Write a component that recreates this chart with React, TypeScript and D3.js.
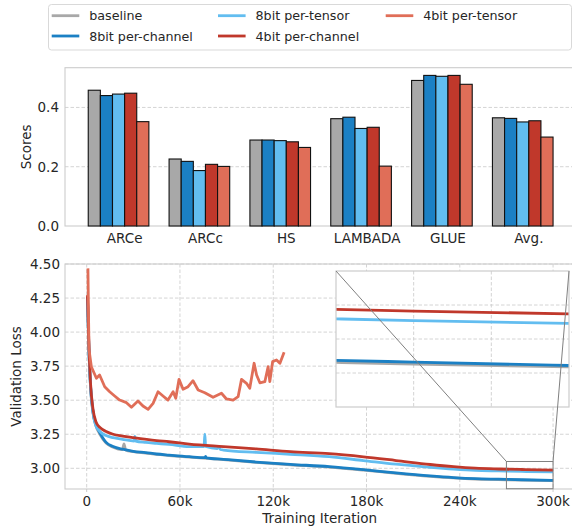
import React, { useEffect, useRef } from 'react';
import * as d3 from 'd3';

// bar chart data
const categories = ['ARCe', 'ARCc', 'HS', 'LAMBADA', 'GLUE', 'Avg.'];
const seriesNames = ['baseline', '8bit per-channel', '8bit per-tensor', '4bit per-channel', '4bit per-tensor'];
const seriesColors = ['#a8a8a8', '#1b80c4', '#62bdf0', '#c0382b', '#e06e58'];

const baselineScores = [0.458, 0.226, 0.290, 0.362, 0.491, 0.365];
const pc8Scores = [0.440, 0.218, 0.290, 0.367, 0.508, 0.363];
const pt8Scores = [0.445, 0.187, 0.288, 0.329, 0.505, 0.351];
const pc4Scores = [0.448, 0.208, 0.284, 0.333, 0.508, 0.355];
const pt4Scores = [0.352, 0.201, 0.265, 0.202, 0.478, 0.300];

const scoreTicks = [0.0, 0.2, 0.4];

// loss curves: [iteration, validation loss]
const baselineLoss: [number, number][] = [
  [500, 4.25], [1500, 3.84], [2500, 3.59], [4000, 3.41], [6000, 3.31], [8500, 3.25],
  [12500, 3.185], [17000, 3.155], [23000, 3.137], [24000, 3.18], [25000, 3.135], [30000, 3.122],
  [38000, 3.112], [45000, 3.102], [53000, 3.094], [66000, 3.082], [88000, 3.063],
  [109000, 3.043], [131000, 3.026], [156000, 3.009], [178000, 2.987], [199000, 2.963],
  [221000, 2.941], [236000, 2.929], [250000, 2.921], [265000, 2.917], [280000, 2.913], [300000, 2.909],
];
const pc8Loss: [number, number][] = [
  [500, 4.26], [1500, 3.85], [2500, 3.6], [4000, 3.42], [6000, 3.32], [8500, 3.26],
  [12500, 3.19], [17000, 3.16], [23000, 3.14], [30000, 3.125], [38000, 3.115], [45000, 3.105],
  [53000, 3.097], [66000, 3.085], [76000, 3.078], [76500, 3.088], [77000, 3.077], [88000, 3.066],
  [109000, 3.046], [131000, 3.029], [156000, 3.012], [178000, 2.99], [199000, 2.966],
  [221000, 2.944], [236000, 2.932], [250000, 2.924], [265000, 2.92], [280000, 2.916], [300000, 2.911],
];
const pt8Loss: [number, number][] = [
  [500, 4.24], [1500, 3.84], [2500, 3.6], [4000, 3.42], [6000, 3.31], [8500, 3.27],
  [12500, 3.24], [17000, 3.225], [23000, 3.213], [30500, 3.2], [31000, 3.235], [31500, 3.2],
  [38000, 3.19], [45000, 3.183], [53000, 3.175], [66000, 3.159], [75500, 3.16], [76000, 3.25],
  [76500, 3.16], [84000, 3.145], [85000, 3.16], [86000, 3.138], [88000, 3.134],
  [109000, 3.117], [131000, 3.103], [156000, 3.085], [178000, 3.057], [199000, 3.03],
  [221000, 3.007], [236000, 2.994], [250000, 2.985], [265000, 2.981], [280000, 2.977], [300000, 2.973],
];
const pc4Loss: [number, number][] = [
  [500, 4.27], [1500, 3.88], [2500, 3.62], [4000, 3.44], [6000, 3.34], [8500, 3.3],
  [12500, 3.27], [17000, 3.25], [23000, 3.237], [30000, 3.225], [45000, 3.203], [53000, 3.195],
  [66000, 3.178], [88000, 3.159], [109000, 3.142], [131000, 3.122], [156000, 3.107],
  [178000, 3.084], [199000, 3.057], [221000, 3.028], [236000, 3.012], [250000, 3.001],
  [265000, 2.995], [280000, 2.991], [300000, 2.987],
];
const pt4Loss: [number, number][] = [
  [800, 4.468], [1100, 4.2], [1500, 3.87], [3000, 3.746], [6250, 3.661], [8300, 3.685],
  [11600, 3.599], [14800, 3.562], [18000, 3.531], [21200, 3.501], [25600, 3.482], [28800, 3.448],
  [33000, 3.494], [36200, 3.457], [39500, 3.433], [42700, 3.477], [45900, 3.562], [49100, 3.531],
  [52300, 3.501], [55600, 3.562], [57300, 3.514], [59400, 3.653], [62000, 3.58], [65200, 3.599],
  [68400, 3.643], [71700, 3.575], [76000, 3.555], [81300, 3.521], [86700, 3.551], [89900, 3.509],
  [94200, 3.501], [97400, 3.526], [99600, 3.653], [102800, 3.624], [104900, 3.587], [107700, 3.771],
  [109300, 3.685], [111400, 3.628], [114600, 3.636], [116700, 3.746], [117800, 3.636], [119600, 3.783],
  [122100, 3.795], [124300, 3.771], [127000, 3.852],
];

const lossTicks = [3.0, 3.25, 3.5, 3.75, 4.0, 4.25, 4.5];
const iterTicks = [0, 60000, 120000, 180000, 240000, 300000];
const insetXTicks = [270000, 280000, 290000, 300000];
const insetYTicks = [2.85, 2.9, 2.95, 3.0, 3.05];

const FONT = 'DejaVu Sans';
const TEXT = '#262626';
const SPINE = '#cccccc';
const GRID = '#cfcfcf';

const App = () => {
  const svgRef = useRef<SVGSVGElement>(null);

  useEffect(() => {
    const svg = d3.select(svgRef.current);
    svg.selectAll('*').remove();
    svg.style('font-family', FONT);

    const allScores = [baselineScores, pc8Scores, pt8Scores, pc4Scores, pt4Scores];
    const allLoss = [baselineLoss, pc8Loss, pt8Loss, pc4Loss, pt4Loss];

    // ---------- top: bar chart ----------
    const top = { left: 65, right: 576.3, top: 67.7, bottom: 226 };
    const barW = 0.15;
    const xb = d3.scaleLinear().domain([-0.7375, 5.5875]).range([top.left, top.right]);
    const yb = d3.scaleLinear().domain([0, 0.534]).range([top.bottom, top.top]);

    const g1 = svg.append('g');
    g1.selectAll('.ygrid')
      .data(scoreTicks.filter(t => t > 0))
      .enter().append('line')
      .attr('x1', top.left).attr('x2', top.right)
      .attr('y1', d => yb(d)).attr('y2', d => yb(d))
      .attr('stroke', GRID).attr('stroke-width', 0.9).attr('stroke-dasharray', '3.5,2');

    g1.append('rect')
      .attr('x', top.left).attr('y', top.top)
      .attr('width', top.right - top.left).attr('height', top.bottom - top.top)
      .attr('fill', 'none').attr('stroke', SPINE).attr('stroke-width', 1.1);

    allScores.forEach((vals, k) => {
      g1.selectAll(`.bar${k}`)
        .data(vals)
        .enter().append('rect')
        .attr('x', (d, i) => xb(i + (k - 3) * barW))
        .attr('width', xb(barW) - xb(0))
        .attr('y', d => yb(d))
        .attr('height', d => yb(0) - yb(d))
        .attr('fill', seriesColors[k])
        .attr('stroke', '#111')
        .attr('stroke-width', 1.1);
    });

    g1.selectAll('.ytick')
      .data(scoreTicks)
      .enter().append('text')
      .attr('x', top.left - 6).attr('y', d => yb(d) + 4.8)
      .attr('text-anchor', 'end').attr('font-size', 13.5).attr('fill', TEXT)
      .text(d => d.toFixed(1));

    g1.selectAll('.xtick')
      .data(categories)
      .enter().append('text')
      .attr('x', (d, i) => xb(i)).attr('y', 243)
      .attr('text-anchor', 'middle').attr('font-size', 13.5).attr('fill', TEXT)
      .text(d => d);

    g1.append('text')
      .attr('transform', `translate(30.5,${(top.top + top.bottom) / 2}) rotate(-90)`)
      .attr('text-anchor', 'middle').attr('font-size', 13.5).attr('fill', TEXT)
      .text('Scores');

    // ---------- bottom: loss curves ----------
    const bot = { left: 65, right: 576.3, top: 264, bottom: 489 };
    const x = d3.scaleLinear().domain([-13950, 314950]).range([bot.left, bot.right]);
    const y = d3.scaleLinear().domain([2.848, 4.5]).range([bot.bottom, bot.top]);

    const g2 = svg.append('g');
    g2.append('defs').append('clipPath').attr('id', 'clipMain')
      .append('rect')
      .attr('x', bot.left).attr('y', bot.top)
      .attr('width', bot.right - bot.left).attr('height', bot.bottom - bot.top);

    g2.selectAll('.hgrid')
      .data(lossTicks)
      .enter().append('line')
      .attr('x1', bot.left).attr('x2', bot.right)
      .attr('y1', d => y(d)).attr('y2', d => y(d))
      .attr('stroke', GRID).attr('stroke-width', 0.9).attr('stroke-dasharray', '3.5,2');
    g2.selectAll('.vgrid')
      .data(iterTicks)
      .enter().append('line')
      .attr('y1', bot.top).attr('y2', bot.bottom)
      .attr('x1', d => x(d)).attr('x2', d => x(d))
      .attr('stroke', GRID).attr('stroke-width', 0.9).attr('stroke-dasharray', '3.5,2');

    g2.append('rect')
      .attr('x', bot.left).attr('y', bot.top)
      .attr('width', bot.right - bot.left).attr('height', bot.bottom - bot.top)
      .attr('fill', 'none').attr('stroke', SPINE).attr('stroke-width', 1.1);

    // small x ticks
    g2.selectAll('.xtk')
      .data(iterTicks)
      .enter().append('line')
      .attr('x1', d => x(d)).attr('x2', d => x(d))
      .attr('y1', bot.bottom).attr('y2', bot.bottom + 3)
      .attr('stroke', SPINE).attr('stroke-width', 1);

    // the noisy 4bit per-tensor run stays linear, the others are smooth
    const lineOf = (xs: d3.ScaleLinear<number, number>, ys: d3.ScaleLinear<number, number>, k: number) =>
      d3.line<[number, number]>()
        .x(d => xs(d[0])).y(d => ys(d[1]))
        .curve(k === 4 ? d3.curveLinear : d3.curveMonotoneX);

    const linesG = g2.append('g').attr('clip-path', 'url(#clipMain)');
    allLoss.forEach((pts, k) => {
      linesG.append('path')
        .attr('d', lineOf(x, y, k)(pts))
        .attr('fill', 'none')
        .attr('stroke', seriesColors[k])
        .attr('stroke-width', 2.8)
        .attr('stroke-linejoin', 'round');
    });

    g2.selectAll('.lytick')
      .data(lossTicks)
      .enter().append('text')
      .attr('x', bot.left - 5).attr('y', d => y(d) + 4.8)
      .attr('text-anchor', 'end').attr('font-size', 13.5).attr('fill', TEXT)
      .text(d => d.toFixed(2));

    g2.selectAll('.lxtick')
      .data(iterTicks)
      .enter().append('text')
      .attr('x', d => x(d)).attr('y', 506)
      .attr('text-anchor', 'middle').attr('font-size', 13.5).attr('fill', TEXT)
      .text(d => (d === 0 ? '0' : `${d / 1000}k`));

    g2.append('text')
      .attr('x', (bot.left + bot.right) / 2 - 1).attr('y', 522.5)
      .attr('text-anchor', 'middle').attr('font-size', 13.5).attr('fill', TEXT)
      .text('Training Iteration');

    g2.append('text')
      .attr('transform', `translate(21,${(bot.top + bot.bottom) / 2}) rotate(-90)`)
      .attr('text-anchor', 'middle').attr('font-size', 13.5).attr('fill', TEXT)
      .text('Validation Loss');

    // ---------- inset ----------
    const ins = { left: 336, right: 569, top: 271, bottom: 407 };
    const xi = d3.scaleLinear().domain([270000, 300000]).range([ins.left, ins.right]);
    const yi = d3.scaleLinear().domain([2.85, 3.05]).range([ins.bottom, ins.top]);

    const g3 = svg.append('g');
    g3.append('defs').append('clipPath').attr('id', 'clipInset')
      .append('rect')
      .attr('x', ins.left).attr('y', ins.top)
      .attr('width', ins.right - ins.left).attr('height', ins.bottom - ins.top);
    g3.append('rect')
      .attr('x', ins.left).attr('y', ins.top)
      .attr('width', ins.right - ins.left).attr('height', ins.bottom - ins.top)
      .attr('fill', 'white');
    g3.selectAll('.ihgrid')
      .data(insetYTicks.slice(1, -1))
      .enter().append('line')
      .attr('x1', ins.left).attr('x2', ins.right)
      .attr('y1', d => yi(d)).attr('y2', d => yi(d))
      .attr('stroke', GRID).attr('stroke-width', 0.9).attr('stroke-dasharray', '3.5,2');
    g3.selectAll('.ivgrid')
      .data(insetXTicks.slice(1, -1))
      .enter().append('line')
      .attr('y1', ins.top).attr('y2', ins.bottom)
      .attr('x1', d => xi(d)).attr('x2', d => xi(d))
      .attr('stroke', GRID).attr('stroke-width', 0.9).attr('stroke-dasharray', '3.5,2');

    const insG = g3.append('g').attr('clip-path', 'url(#clipInset)');
    allLoss.forEach((pts, k) => {
      insG.append('path')
        .attr('d', lineOf(xi, yi, k)(pts))
        .attr('fill', 'none')
        .attr('stroke', seriesColors[k])
        .attr('stroke-width', 2.8);
    });
    g3.append('rect')
      .attr('x', ins.left).attr('y', ins.top)
      .attr('width', ins.right - ins.left).attr('height', ins.bottom - ins.top)
      .attr('fill', 'none').attr('stroke', SPINE).attr('stroke-width', 1.2);

    // zoom rectangle + connectors, drawn over the inset
    const rx0 = x(270000), rx1 = x(300000), ry0 = y(3.05), ry1 = y(2.85);
    g3.append('rect')
      .attr('x', rx0).attr('y', ry0).attr('width', rx1 - rx0).attr('height', ry1 - ry0)
      .attr('fill', 'none').attr('stroke', '#808080').attr('stroke-width', 1);
    g3.append('line')
      .attr('x1', ins.left).attr('y1', ins.top).attr('x2', rx0).attr('y2', ry0)
      .attr('stroke', '#808080').attr('stroke-width', 1);
    g3.append('line')
      .attr('x1', ins.right).attr('y1', ins.top).attr('x2', rx1).attr('y2', ry0)
      .attr('stroke', '#808080').attr('stroke-width', 1);

    // ---------- legend ----------
    const lg = svg.append('g');
    lg.append('rect')
      .attr('x', 48.5).attr('y', 4.5).attr('width', 523).attr('height', 45.5).attr('rx', 3)
      .attr('fill', 'white').attr('stroke', '#d9d9d9').attr('stroke-width', 1);
    const colX = [51.7, 218, 385.7];
    const rowY = [15.7, 36];
    seriesNames.forEach((name, k) => {
      const c = Math.floor(k / 2);
      const r = k % 2;
      lg.append('line')
        .attr('x1', colX[c]).attr('x2', colX[c] + 27.6)
        .attr('y1', rowY[r]).attr('y2', rowY[r])
        .attr('stroke', seriesColors[k]).attr('stroke-width', 2.8);
      lg.append('text')
        .attr('x', colX[c] + 37.5).attr('y', rowY[r] + 4.6)
        .attr('font-size', 12.7).attr('fill', TEXT)
        .text(name);
    });
  }, []);

  return (
    <svg
      ref={svgRef}
      width={572}
      height={529}
      style={{ position: 'absolute', left: 0, top: 0, background: 'white' }}
    ></svg>
  );
};

export default App;
